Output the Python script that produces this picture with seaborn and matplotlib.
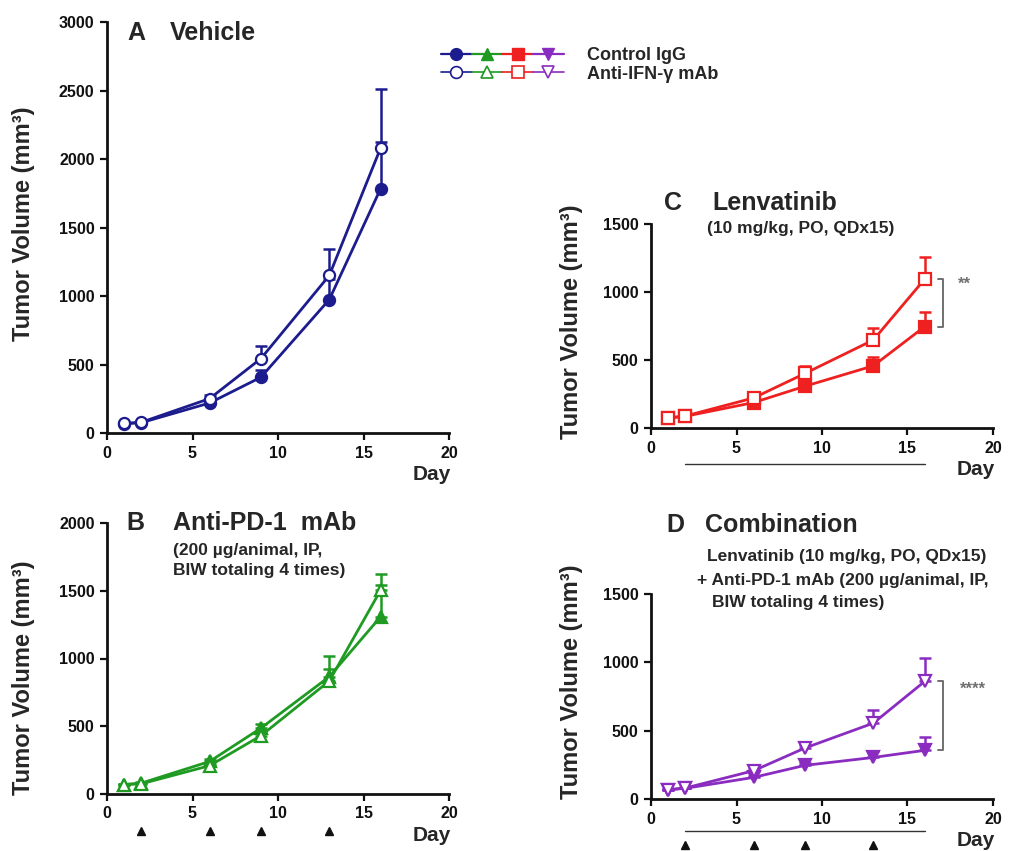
import numpy as np
import pandas as pd
import seaborn as sns
import matplotlib
matplotlib.use("Agg")
import matplotlib.pyplot as plt
from matplotlib.lines import Line2D
from matplotlib.legend_handler import HandlerTuple
from matplotlib.transforms import blended_transform_factory

# ---- data: mean tumor volume (mm^3) and upper SEM per measurement day ----
days = [1, 2, 6, 9, 13, 16]

vehicle_ctrl = [68, 75, 219, 407, 974, 1783]
vehicle_ctrl_sem = [4, 5, 18, 55, 150, 340]
vehicle_ifn = [70, 78, 251, 543, 1150, 2080]
vehicle_ifn_sem = [5, 6, 25, 90, 190, 428]

pd1_ctrl = [70, 80, 240, 486, 866, 1308]
pd1_ctrl_sem = [4, 5, 15, 30, 60, 234]
pd1_ifn = [70, 75, 209, 430, 834, 1504]
pd1_ifn_sem = [4, 5, 15, 30, 184, 120]

lenva_ctrl = [74, 86, 187, 307, 457, 745]
lenva_ctrl_sem = [5, 6, 15, 40, 67, 106]
lenva_ifn = [74, 88, 221, 401, 647, 1094]
lenva_ifn_sem = [5, 6, 18, 56, 91, 160]

combo_ctrl = [68, 78, 158, 246, 304, 356]
combo_ctrl_sem = [4, 5, 12, 20, 44, 95]
combo_ifn = [68, 80, 207, 373, 555, 860]
combo_ifn_sem = [4, 5, 15, 25, 98, 170]

pd1_dose_days = [2, 6, 9, 13]
lenva_dose_span = [2, 16]

group_labels = ["Control IgG", "Anti-IFN-\u03b3 mAb"]
x_ticks = [0, 5, 10, 15, 20]

# ---- styling ----
sns.set_style("ticks")
plt.rcParams["font.family"] = ["Liberation Sans", "DejaVu Sans"]
plt.rcParams["font.weight"] = "bold"

navy = "#1c1c8e"
green = "#1f9a22"
red = "#ee2020"
purple = "#8a2cc0"
gray = "#707070"

W, H = 1015, 851
fig = plt.figure(figsize=(W / 100, H / 100), dpi=100)


def px_axes(l, r, t, b):
    return fig.add_axes([l / W, 1 - b / H, (r - l) / W, (b - t) / H])


axA = px_axes(107, 449, 22, 433)
axB = px_axes(107, 449, 523, 794)
axC = px_axes(651, 993, 224, 428)
axD = px_axes(651, 993, 594, 799)


def draw_series(ax, mean, sem, color, marker, open_marker, z):
    df = pd.DataFrame({"Day": days, "Volume": mean})
    ax.errorbar(days, mean, yerr=[np.zeros(len(sem)), sem], fmt="none",
                ecolor=color, elinewidth=1.8, capsize=4.5, capthick=1.8,
                zorder=z)
    sns.lineplot(data=df, x="Day", y="Volume", ax=ax, color=color,
                 marker=marker, markersize=8.5 if marker != "o" else 8,
                 markerfacecolor="white" if open_marker else color,
                 markeredgecolor=color, markeredgewidth=1.6,
                 linewidth=2.0, zorder=z + 1, errorbar=None)


def style_axes(ax, ymax, ylabel_pos):
    ax.set_xlim(0, 20)
    ax.set_ylim(0, ymax)
    ax.set_xticks(x_ticks)
    ax.set_yticks(np.arange(0, ymax + 1, 500))
    for s in ("top", "right"):
        ax.spines[s].set_visible(False)
    for s in ("left", "bottom"):
        ax.spines[s].set_linewidth(2.0)
        ax.spines[s].set_color("#111111")
    ax.tick_params(direction="out", length=5, width=1.6, labelsize=11.5,
                   colors="#111111", pad=4)
    for lab in ax.get_xticklabels() + ax.get_yticklabels():
        lab.set_fontweight("bold")
    ax.set_xlabel("")
    ax.set_ylabel("Tumor Volume (mm\u00b3)", fontsize=17, fontweight="bold")
    ax.yaxis.set_label_coords(ylabel_pos[0], ylabel_pos[1])
    ax.annotate("Day", xy=(0.95, 0), xycoords="axes fraction",
                xytext=(0, -30), textcoords="offset points",
                ha="center", va="center", fontsize=15, fontweight="bold")


draw_series(axA, vehicle_ctrl, vehicle_ctrl_sem, navy, "o", False, 3)
draw_series(axA, vehicle_ifn, vehicle_ifn_sem, navy, "o", True, 5)
style_axes(axA, 3000, (-0.21, 0.51))

draw_series(axB, pd1_ctrl, pd1_ctrl_sem, green, "^", False, 3)
draw_series(axB, pd1_ifn, pd1_ifn_sem, green, "^", True, 5)
style_axes(axB, 2000, (-0.21, 0.43))

draw_series(axC, lenva_ctrl, lenva_ctrl_sem, red, "s", False, 3)
draw_series(axC, lenva_ifn, lenva_ifn_sem, red, "s", True, 5)
style_axes(axC, 1500, (-0.2, 0.52))

draw_series(axD, combo_ctrl, combo_ctrl_sem, purple, "v", False, 3)
draw_series(axD, combo_ifn, combo_ifn_sem, purple, "v", True, 5)
style_axes(axD, 1500, (-0.2, 0.57))


# ---- dosing schedule marks under the x axis ----
def dose_line(ax, span, yfrac):
    tr = blended_transform_factory(ax.transData, ax.transAxes)
    ax.plot(span, [yfrac, yfrac], transform=tr, color="#333333",
            linewidth=1.0, clip_on=False)


def dose_marks(ax, marks, yfrac):
    tr = blended_transform_factory(ax.transData, ax.transAxes)
    ax.plot(marks, [yfrac] * len(marks), transform=tr, linestyle="none",
            marker="^", markersize=5.5, color="#111111", clip_on=False)


dose_marks(axB, pd1_dose_days, -0.137)
dose_line(axC, lenva_dose_span, -0.176)
dose_line(axD, lenva_dose_span, -0.156)
dose_marks(axD, pd1_dose_days, -0.224)


# ---- significance brackets at the last day ----
def bracket(ax, lo, hi, x, label, label_x, label_y):
    ax.plot([x - 0.3, x, x, x - 0.3], [hi, hi, lo, lo], color=gray,
            linewidth=1.4, clip_on=False)
    ax.text(label_x, label_y, label, color=gray, fontsize=12,
            ha="center", va="center", fontweight="bold")


bracket(axC, lenva_ctrl[-1], lenva_ifn[-1], 17.1, "**", 18.3, 1060)
bracket(axD, combo_ctrl[-1], combo_ifn[-1], 17.1, "****", 18.8, 800)


# ---- panel titles ----
def fig_text(x, y, s, size, **kw):
    fig.text(x / W, 1 - y / H, s, fontsize=size, fontweight="bold",
             va="center", ha="left", **kw)


fig_text(127, 33, "A", 18)
fig_text(170, 33, "Vehicle", 18)

fig_text(126, 523, "B", 18)
fig_text(173, 523, "Anti-PD-1  mAb", 18)
fig_text(173, 550, "(200 \u00b5g/animal, IP,", 12.5)
fig_text(173, 571, "BIW totaling 4 times)", 12.5)

fig_text(664, 203, "C", 18)
fig_text(712, 203, "Lenvatinib", 18)
fig_text(707, 228, "(10 mg/kg, PO, QDx15)", 12.5)

fig_text(666, 525, "D", 18)
fig_text(705, 525, "Combination", 18)
fig_text(707, 557, "Lenvatinib (10 mg/kg, PO, QDx15)", 12.5)
fig_text(697, 580, "+ Anti-PD-1 mAb (200 \u00b5g/animal, IP,", 12.5)
fig_text(712, 602, "BIW totaling 4 times)", 12.5)

# ---- shared legend ----
series_colors = [navy, green, red, purple]
series_markers = ["o", "^", "s", "v"]
filled = tuple(Line2D([], [], color=c, marker=m, markersize=8.5,
                      markerfacecolor=c, markeredgecolor=c, linewidth=1.6)
               for c, m in zip(series_colors, series_markers))
hollow = tuple(Line2D([], [], color=c, marker=m, markersize=8.5,
                      markerfacecolor="white", markeredgecolor=c,
                      markeredgewidth=1.2, linewidth=1.2)
               for c, m in zip(series_colors, series_markers))
fig.legend([filled, hollow], group_labels,
           handler_map={tuple: HandlerTuple(ndivide=None, pad=0.0)},
           loc="upper left", bbox_to_anchor=(441 / W, 1 - 47 / H),
           frameon=False, handlelength=6.8, handletextpad=1.3,
           labelspacing=0.1, numpoints=1,
           prop={"weight": "bold", "size": 13}, borderaxespad=0,
           borderpad=0)

fig.savefig("out.png", dpi=100)
